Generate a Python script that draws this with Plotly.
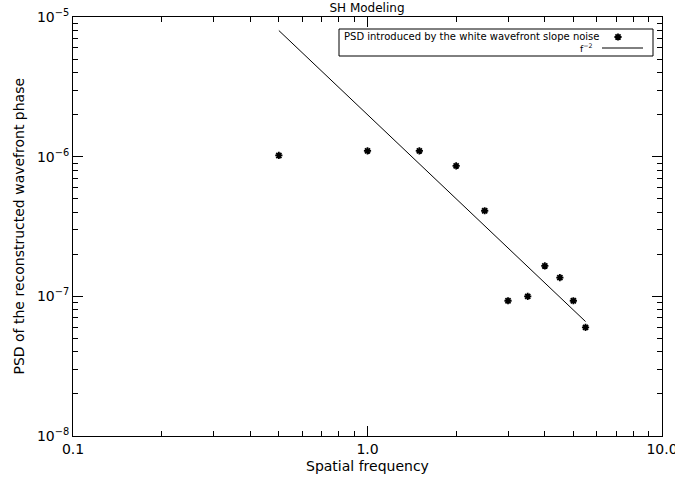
import plotly.graph_objects as go

# data
freq = [0.5, 1.0, 1.5, 2.0, 2.5, 3.0, 3.5, 4.0, 4.5, 5.0, 5.5]
psd = [1.02e-6, 1.10e-6, 1.10e-6, 8.6e-7, 4.1e-7, 9.3e-8, 1.0e-7, 1.65e-7, 1.36e-7, 9.3e-8, 6.0e-8]
fit_x = [0.5, 5.5]
fit_y = [8.0e-6, 6.6e-8]
x_tickvals = [0.1, 1.0, 10.0]
x_ticktext = ["0.1", "1.0", "10.0"]
y_tickvals = [1e-8, 1e-7, 1e-6, 1e-5]
y_ticktext = ["10<sup>\u22128</sup>", "10<sup>\u22127</sup>", "10<sup>\u22126</sup>", "10<sup>\u22125</sup>"]
legend_labels = ["PSD introduced by the white wavefront slope noise", "f<sup>\u22122</sup>"]

FONT = "DejaVu Sans"
W, H = 675, 487
L, R, T, B = 73, 662, 17, 436

fig = go.Figure()
fig.add_trace(go.Scatter(x=freq, y=psd, mode="markers",
                         marker=dict(symbol="asterisk-open", size=6, color="black",
                                     line=dict(color="black", width=1.8)),
                         showlegend=False))
fig.add_trace(go.Scatter(x=fit_x, y=fit_y, mode="lines",
                         line=dict(color="black", width=1), showlegend=False))

# legend glyphs on a pixel-based overlay axis
fig.add_trace(go.Scatter(x=[618], y=[37], mode="markers", xaxis="x2", yaxis="y2",
                         marker=dict(symbol="asterisk-open", size=6, color="black",
                                     line=dict(color="black", width=1.8)),
                         showlegend=False, hoverinfo="skip"))
fig.add_trace(go.Scatter(x=[602, 643], y=[48, 48], mode="lines", xaxis="x2", yaxis="y2",
                         line=dict(color="black", width=1), showlegend=False, hoverinfo="skip"))

fig.add_shape(type="rect", xref="x2", yref="y2", x0=339, x1=653, y0=29, y1=56,
              line=dict(color="black", width=1))
fig.add_annotation(xref="x2", yref="y2", x=342, y=36, text=legend_labels[0], showarrow=False,
                   xanchor="left", yanchor="middle", font=dict(family=FONT, size=10, color="black"))
fig.add_annotation(xref="x2", yref="y2", x=594, y=48, text=legend_labels[1], showarrow=False,
                   xanchor="right", yanchor="middle", font=dict(family=FONT, size=9, color="black"))

# axis titles (paper coords relative to plot area)
fig.add_annotation(xref="paper", yref="paper", x=0.5, y=-(466 - B) / (B - T), text="Spatial frequency",
                   showarrow=False, xanchor="center", yanchor="middle",
                   font=dict(family=FONT, size=14, color="black"))
fig.add_annotation(xref="paper", yref="paper", x=-(L - 18) / (R - L), y=0.5,
                   text="PSD of the reconstructed wavefront phase", textangle=-90,
                   showarrow=False, xanchor="center", yanchor="middle",
                   font=dict(family=FONT, size=14, color="black"))

axis_common = dict(showline=True, linecolor="black", linewidth=1, mirror="ticks",
                   ticks="inside", tickcolor="black", ticklen=10, showgrid=False, zeroline=False,
                   automargin=False, ticklabeloverflow="allow",
                   tickfont=dict(family=FONT, size=14, color="black"))

fig.update_layout(
    width=W, height=H,
    margin=dict(l=L, r=W - R, t=T, b=H - B, autoexpand=False),
    plot_bgcolor="white", paper_bgcolor="white",
    title=dict(text="SH Modeling", x=367 / W, xanchor="center", y=1 - 8 / H, yanchor="middle",
               font=dict(family=FONT, size=12, color="black")),
    xaxis=dict(type="log", range=[-1, 1], tickvals=x_tickvals, ticktext=x_ticktext,
               minor=dict(ticks="inside", ticklen=5, tickcolor="black", dtick="D1", showgrid=False),
               **axis_common),
    yaxis=dict(type="log", range=[-8, -5], tickvals=y_tickvals, ticktext=y_ticktext,
               minor=dict(ticks="inside", ticklen=5, tickcolor="black", dtick="D1", showgrid=False),
               **axis_common),
    xaxis2=dict(overlaying="x", range=[L, R], visible=False, fixedrange=True),
    yaxis2=dict(overlaying="y", range=[B, T], visible=False, fixedrange=True),
    showlegend=False,
)

fig.write_html("out.html", config={"displayModeBar": False},
               post_script="document.body.style.margin='0';")
